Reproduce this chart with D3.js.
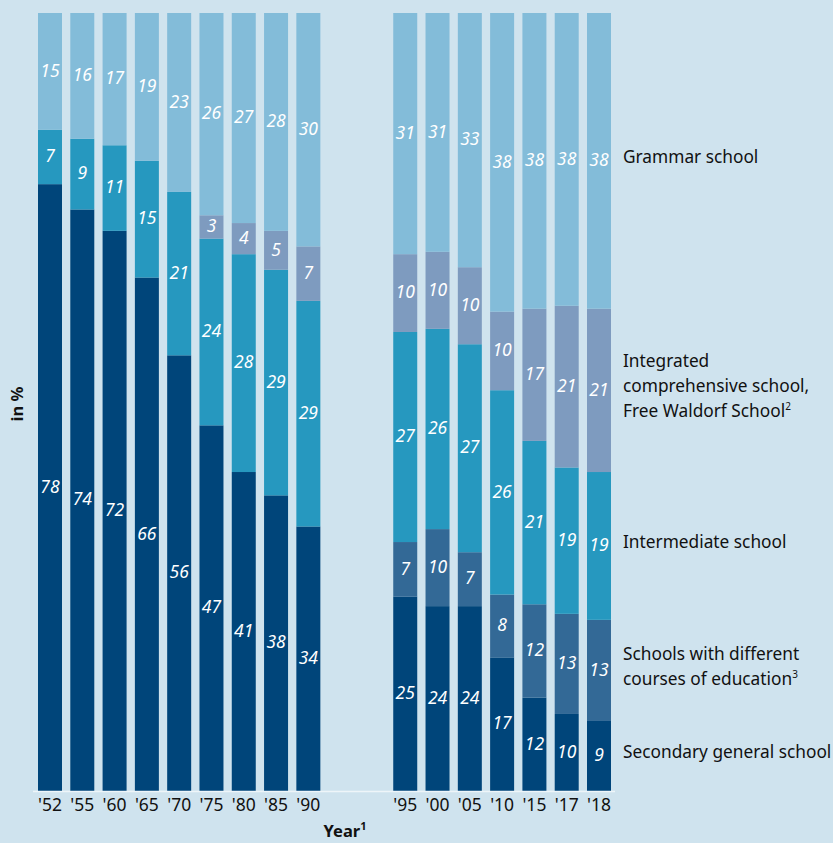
<!DOCTYPE html>
<html lang="en">
<head>
<meta charset="UTF-8">
<title>School attendance by school type</title>
<script src="https://d3js.org/d3.v7.min.js"></script>
<style>
  html, body { margin: 0; padding: 0; background: #cfe3ee; }
  svg { font-family: "Noto Sans", "Open Sans", sans-serif; display: block; }
</style>
</head>
<body>
<script>
// Data (in %), bottom to top of each stack
const years = ["'52", "'55", "'60", "'65", "'70", "'75", "'80", "'85", "'90",
               "'95", "'00", "'05", "'10", "'15", "'17", "'18"];
const secondaryGeneral = [78, 74, 72, 66, 56, 47, 41, 38, 34, 25, 24, 24, 17, 12, 10, 9];
const differentCourses = [0, 0, 0, 0, 0, 0, 0, 0, 0, 7, 10, 7, 8, 12, 13, 13];
const intermediate     = [7, 9, 11, 15, 21, 24, 28, 29, 29, 27, 26, 27, 26, 21, 19, 19];
const integrated       = [0, 0, 0, 0, 0, 3, 4, 5, 7, 10, 10, 10, 10, 17, 21, 21];
const grammar          = [15, 16, 17, 19, 23, 26, 27, 28, 30, 31, 31, 33, 38, 38, 38, 38];

const seriesKeys = ["sec", "diff", "inter", "integ", "gram"];
const seriesLabels = {
  sec:   ["Secondary general school"],
  diff:  ["Schools with different", "courses of education³"],
  inter: ["Intermediate school"],
  integ: ["Integrated", "comprehensive school,", "Free Waldorf School²"],
  gram:  ["Grammar school"]
};
const colors = {
  sec: "#00457a", diff: "#336996", inter: "#2698bf", integ: "#7e9bbf", gram: "#83bcd9"
};

const rows = years.map((y, i) => ({
  year: y,
  sec: secondaryGeneral[i],
  diff: differentCourses[i],
  inter: intermediate[i],
  integ: integrated[i],
  gram: grammar[i]
}));

const width = 833, height = 843;
const baseY = 791, topY = 13;

// two empty slots between '90 and '95
const slots = [...years.slice(0, 9), "gap1", "gap2", ...years.slice(9)];

const x = d3.scaleBand()
  .domain(slots)
  .range([38, 611])
  .paddingInner(0.257)
  .paddingOuter(0);

const y = d3.scaleLinear().domain([0, 1]).range([baseY, topY]);

const stacked = d3.stack().keys(seriesKeys).offset(d3.stackOffsetExpand)(rows);

const svg = d3.select("body").append("svg")
  .attr("width", width)
  .attr("height", height);

svg.append("rect").attr("width", width).attr("height", height).attr("fill", "#cfe3ee");

// bars
const layer = svg.append("g").selectAll("g")
  .data(stacked)
  .join("g")
  .attr("fill", d => colors[d.key]);

layer.selectAll("rect")
  .data(d => d)
  .join("rect")
  .attr("x", d => x(d.data.year))
  .attr("y", d => y(d[1]))
  .attr("width", x.bandwidth())
  .attr("height", d => y(d[0]) - y(d[1]));

// value labels
const labels = svg.append("g")
  .attr("fill", "#fff")
  .attr("font-style", "italic")
  .attr("font-size", 17.5)
  .attr("text-anchor", "middle");

stacked.forEach(s => {
  labels.selectAll(null)
    .data(s.filter(d => d.data[s.key] > 0))
    .join("text")
    .attr("x", d => x(d.data.year) + x.bandwidth() / 2)
    .attr("y", d => (y(d[0]) + y(d[1])) / 2)
    .attr("dy", "0.3em")
    .text(d => d.data[s.key]);
});

// x axis
const xAxis = svg.append("g")
  .attr("transform", `translate(0,${baseY})`)
  .call(d3.axisBottom(x).tickValues(years).tickSize(0).tickPadding(8));
xAxis.select(".domain").remove();
xAxis.selectAll("text")
  .attr("font-size", 17.5)
  .attr("font-family", "Noto Sans, sans-serif")
  .attr("fill", "#111");

svg.append("line")
  .attr("x1", 33).attr("x2", 615)
  .attr("y1", baseY + 0.5).attr("y2", baseY + 0.5)
  .attr("stroke", "#eef5f9")
  .attr("stroke-width", 1.5);

// axis titles
const yearTitle = svg.append("text")
  .attr("x", 345)
  .attr("y", 837)
  .attr("text-anchor", "middle")
  .attr("font-size", 16.5)
  .attr("font-weight", "bold")
  .attr("fill", "#111")
  .text("Year");
yearTitle.append("tspan").attr("font-size", 11).attr("dy", -7).text("1");

svg.append("text")
  .attr("transform", "translate(23,404) rotate(-90)")
  .attr("text-anchor", "middle")
  .attr("font-size", 16.5)
  .attr("font-weight", "bold")
  .attr("fill", "#111")
  .text("in %");

// legend, aligned with the last bar's segments
const legend = svg.append("g")
  .attr("font-size", 17.3)
  .attr("fill", "#111");

stacked.forEach(s => {
  const seg = s[s.length - 1];
  const mid = (y(seg[0]) + y(seg[1])) / 2 - 4;
  const lines = seriesLabels[s.key];
  const lh = 25;
  const t = legend.append("text")
    .attr("x", 623)
    .attr("y", mid - (lines.length - 1) * lh / 2)
    .attr("dy", "0.35em");
  lines.forEach((ln, i) => {
    const sup = ln.match(/[²³]$/);
    t.append("tspan")
      .attr("x", 623)
      .attr("dy", i === 0 ? null : lh)
      .text(sup ? ln.slice(0, -1) : ln);
    if (sup) {
      t.append("tspan").attr("font-size", 10).attr("dy", -7)
        .text(sup[0] === "²" ? "2" : "3");
      t.append("tspan").attr("dy", 7).text("");
    }
  });
});
</script>
</body>
</html>
